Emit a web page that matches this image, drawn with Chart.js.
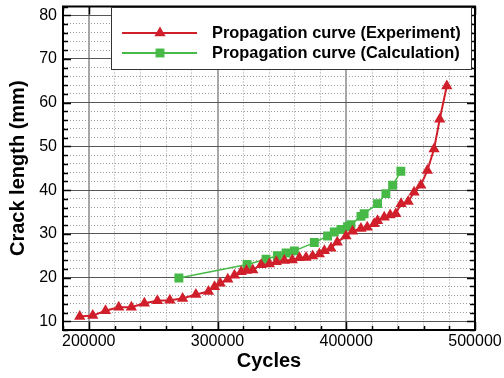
<!DOCTYPE html>
<html><head><meta charset="utf-8">
<script src="https://cdn.jsdelivr.net/npm/chart.js@4.4.1/dist/chart.umd.min.js"></script>
<style>html,body{margin:0;padding:0;background:#fff}#wrap{width:504px;height:378px}</style>
</head><body><div id="wrap"><canvas id="c" width="504" height="378"></canvas></div>
<script>
const expCycles = [193000, 203100, 213000, 223300, 233100, 243200, 253300, 263000, 272900, 283200, 293000, 297700, 302100, 308000, 313200, 318400, 322500, 327400, 333900, 340300, 345700, 351900, 358100, 363600, 368800, 373900, 379100, 383000, 388100, 393000, 399800, 404900, 411400, 416300, 421700, 424300, 429500, 434100, 438500, 442600, 448100, 452700, 457900, 463000, 468200, 472600, 478100];
const expLength = [11.1, 11.3, 12.4, 13.2, 13.2, 14.1, 14.7, 14.8, 15.2, 16.1, 16.8, 17.9, 18.7, 19.6, 20.5, 21.3, 21.6, 21.75, 22.9, 23.1, 23.6, 23.9, 24.0, 24.5, 24.6, 24.9, 25.4, 26.1, 26.7, 28.1, 29.5, 30.6, 31.2, 31.5, 32.3, 33.0, 33.8, 34.3, 34.6, 36.9, 37.4, 39.5, 41.1, 44.5, 49.4, 56.2, 63.8];
const calcCycles = [270000, 323000, 337700, 346500, 353300, 359700, 375200, 385500, 390700, 395900, 401000, 403600, 411400, 413900, 424300, 430800, 436000, 442400];
const calcLength = [19.9, 23.0, 24.2, 25.0, 25.6, 26.1, 28.0, 29.5, 30.4, 31.0, 31.6, 32.1, 34.0, 34.6, 36.9, 39.2, 41.1, 44.3];
const seriesNames = ['Propagation curve (Experiment)', 'Propagation curve (Calculation)'];
const xTickLabels = [200000, 300000, 400000, 500000];
const yTickLabels = [10, 20, 30, 40, 50, 60, 70, 80];
const xTitle = 'Cycles';
const yTitle = 'Crack length (mm)';

const RED = '#d01f2b';
const GREEN = '#47b947';
const FONT = '"Liberation Sans", Arial, sans-serif';

function pts(xs, ys) { return xs.map((x, i) => ({x: x, y: ys[i]})); }

const innerTicks = {
  id: 'innerTicks',
  beforeDatasetsDraw(chart) {
    const ctx = chart.ctx, ca = chart.chartArea;
    const xs = chart.scales.x, ys = chart.scales.y;
    ctx.save();
    ctx.strokeStyle = '#000';
    ctx.lineWidth = 1.5;
    ctx.beginPath();
    xs.ticks.forEach(t => {
      const p = Math.round(xs.getPixelForValue(t.value)) + 0.5;
      const len = xTickLabels.includes(t.value) ? 8 : 4;
      ctx.moveTo(p, ca.bottom); ctx.lineTo(p, ca.bottom - len);
      ctx.moveTo(p, ca.top); ctx.lineTo(p, ca.top + len);
    });
    ys.ticks.forEach(t => {
      const p = Math.round(ys.getPixelForValue(t.value)) + 0.5;
      const len = yTickLabels.includes(t.value) ? 8 : 5;
      ctx.moveTo(ca.left, p); ctx.lineTo(ca.left + len, p);
      ctx.moveTo(ca.right, p); ctx.lineTo(ca.right - len, p);
    });
    ctx.stroke();
    ctx.lineWidth = 2;
    ctx.strokeRect(ca.left, ca.top, ca.right - ca.left, ca.bottom - ca.top);
    ctx.restore();
  }
};

function tri(ctx, x, y, r) {
  ctx.beginPath();
  ctx.moveTo(x, y - r);
  ctx.lineTo(x + 0.866 * r, y + 0.5 * r);
  ctx.lineTo(x - 0.866 * r, y + 0.5 * r);
  ctx.closePath(); ctx.fill();
}
function sq(ctx, x, y, r) {
  const s = Math.SQRT1_2 * r;
  ctx.fillRect(x - s, y - s, 2 * s, 2 * s);
}

const boxLegend = {
  id: 'boxLegend',
  afterDraw(chart) {
    const ctx = chart.ctx;
    ctx.save();
    ctx.fillStyle = '#fff';
    ctx.fillRect(111, 7, 361, 63);
    ctx.strokeStyle = '#333';
    ctx.lineWidth = 1;
    ctx.strokeRect(111.5, 7.5, 360, 62);
    const rows = [{y: 33, c: RED, m: 'tri'}, {y: 53, c: GREEN, m: 'sq'}];
    rows.forEach((r, i) => {
      ctx.strokeStyle = r.c; ctx.fillStyle = r.c; ctx.lineWidth = 2;
      ctx.beginPath(); ctx.moveTo(122, r.y); ctx.lineTo(197, r.y); ctx.stroke();
      if (r.m === 'tri') tri(ctx, 160, r.y, 6.5); else sq(ctx, 160, r.y, 6.3);
      ctx.fillStyle = '#000';
      ctx.font = 'bold 16.4px ' + FONT;
      ctx.textBaseline = 'middle';
      ctx.textAlign = 'left';
      ctx.fillText(seriesNames[i], 212, r.y);
    });
    ctx.restore();
  }
};

function noPad(s) { s.paddingTop = 0; s.paddingBottom = 0; s.paddingLeft = 0; s.paddingRight = 0; }

new Chart(document.getElementById('c'), {
  type: 'line',
  data: {
    datasets: [
      {label: seriesNames[0], data: pts(expCycles, expLength), borderColor: RED, backgroundColor: RED,
       borderWidth: 2, pointStyle: 'triangle', pointRadius: 6.5, pointBorderWidth: 0, pointBackgroundColor: RED, tension: 0},
      {label: seriesNames[1], data: pts(calcCycles, calcLength), borderColor: GREEN, backgroundColor: GREEN,
       borderWidth: 1.5, pointStyle: 'rect', pointRadius: 6.3, pointBorderWidth: 0, pointBackgroundColor: GREEN, tension: 0}
    ]
  },
  options: {
    responsive: false,
    animation: false,
    events: [],
    layout: {padding: {left: 0, right: 29, top: 6, bottom: 0}},
    plugins: {legend: {display: false}, tooltip: {enabled: false}, title: {display: false}},
    scales: {
      x: {
        type: 'linear', min: 180000, max: 500000,
        afterFit: s => { s.height = 48; noPad(s); },
        ticks: {stepSize: 20000, autoSkip: false, maxRotation: 0, padding: 2, color: '#000',
          font: {family: FONT, size: 16},
          callback: v => xTickLabels.includes(v) ? String(v) : ''},
        grid: {drawTicks: false,
          color: c => (c.tick && xTickLabels.includes(c.tick.value)) ? '#a8a8a8' : '#9a9a9a',
          lineWidth: c => (c.tick && xTickLabels.includes(c.tick.value)) ? 2 : 1},
        border: {display: true, color: '#000', width: 2,
          dash: c => (c.tick && !xTickLabels.includes(c.tick.value)) ? [1, 2] : []},
        title: {display: true, text: xTitle, color: '#000', font: {family: FONT, size: 20, weight: 'bold'},
          padding: {top: 0, bottom: 5}}
      },
      y: {
        type: 'linear', min: 8, max: 82,
        afterFit: s => { s.width = 63; noPad(s); },
        ticks: {stepSize: 2, autoSkip: false, padding: 6, color: '#000',
          font: {family: FONT, size: 16},
          callback: v => yTickLabels.includes(v) ? String(v) : ''},
        grid: {drawTicks: false,
          color: c => (c.tick && yTickLabels.includes(c.tick.value)) ? '#555' : '#9a9a9a',
          lineWidth: 1},
        border: {display: true, color: '#000', width: 2,
          dash: c => (c.tick && !yTickLabels.includes(c.tick.value)) ? [1, 2] : []},
        title: {display: true, text: yTitle, color: '#000', font: {family: FONT, size: 20, weight: 'bold'},
          padding: {top: 6, bottom: 0}}
      }
    }
  },
  plugins: [innerTicks, boxLegend]
});
</script></body></html>
